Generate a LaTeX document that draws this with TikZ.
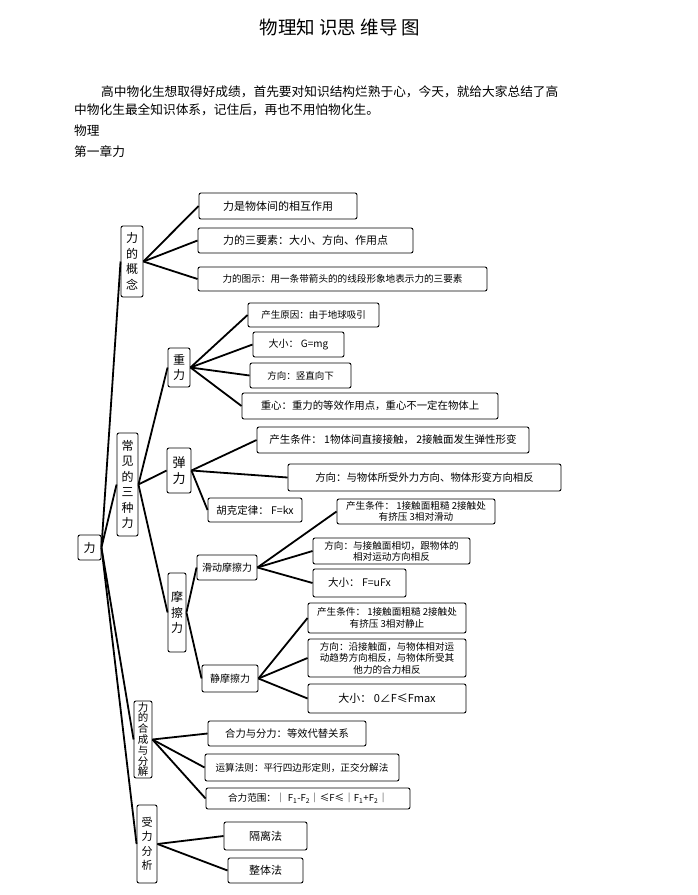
\documentclass[tikz,border=0pt]{standalone}
\usepackage{fontspec}
\setmainfont{Noto Sans CJK SC}

\begin{document}
\begin{tikzpicture}[x=1pt, y=-1pt,
    box/.style={draw, line width=0.9pt, rounded corners=2pt, inner sep=1pt, align=center, font=\fontsize{10}{12}\selectfont},
    vbox/.style={box, font=\fontsize{12}{15.5}\selectfont},
    txt/.style={anchor=west, inner sep=0pt, font=\fontsize{12.7}{15}\selectfont},
    link/.style={line width=1.8pt}]
    \useasboundingbox (0,0) rectangle (698,895);
    % heading
    \node[inner sep=0pt] (title) at (340,27) {\fontsize{18.5}{22}\selectfont 物理知 识思 维导 图};
    \node[txt] (intro1) at (101,92) {高中物化生想取得好成绩，首先要对知识结构烂熟于心，今天，就给大家总结了高};
    \node[txt] (intro2) at (74,110) {中物化生最全知识体系，记住后，再也不用怕物化生。};
    \node[txt] (subj) at (74,131) {物理};
    \node[txt] (chap) at (74,152) {第一章力};
    % root and first level
    \node[vbox, minimum width=23, minimum height=25] (li) at (89.5,547.5) {力};
    \node[vbox, minimum width=22, minimum height=71] (gainian) at (132,261.5) {力\\的\\概\\念};
    \node[vbox, minimum width=21, minimum height=103] (sanzhong) at (127.5,484.5) {常\\见\\的\\三\\种\\力};
    \node[vbox, minimum width=18, minimum height=77, font=\fontsize{10.5}{10.8}\selectfont] (hecheng) at (143,739.5) {力\\的\\合\\成\\与\\分\\解};
    \node[vbox, minimum width=20, minimum height=78, font=\fontsize{11}{14.5}\selectfont] (shouli) at (147,844) {受\\力\\分\\析};
    % three kinds of force
    \node[vbox, minimum width=22, minimum height=39] (zhongli) at (179,367.5) {重\\力};
    \node[vbox, minimum width=24, minimum height=45, font=\fontsize{13}{16}\selectfont] (tanli) at (179,470.5) {弹\\力};
    \node[vbox, minimum width=18, minimum height=79] (moca) at (177,612.5) {摩\\擦\\力};
    \node[box, minimum width=60, minimum height=25] (huadong) at (227,567.5) {滑动摩擦力};
    \node[box, minimum width=56, minimum height=27] (jingmo) at (230,678.5) {静摩擦力};
    % leaves of gainian
    \node[box, minimum width=158, minimum height=26, font=\fontsize{11}{13}\selectfont] (a1) at (278,206) {力是物体间的相互作用};
    \node[box, minimum width=215, minimum height=25, font=\fontsize{11}{13}\selectfont] (a2) at (305.5,240.5) {力的三要素：大小、方向、作用点};
    \node[box, minimum width=289, minimum height=24, font=\fontsize{9.6}{12}\selectfont] (a3) at (342.5,279) {力的图示：用一条带箭头的的线段形象地表示力的三要素};
    % leaves of zhongli
    \node[box, minimum width=131, minimum height=24, font=\fontsize{9.5}{12}\selectfont] (g1) at (313.5,315) {产生原因：由于地球吸引};
    \node[box, minimum width=91, minimum height=25] (g2) at (298.5,344.5) {大小： G=mg};
    \node[box, minimum width=101, minimum height=25, font=\fontsize{9.5}{12}\selectfont] (g3) at (300.5,375.5) {方向：竖直向下};
    \node[box, minimum width=256, minimum height=26, font=\fontsize{10.4}{12}\selectfont] (g4) at (370,406) {重心：重力的等效作用点，重心不一定在物体上};
    % leaves of tanli
    \node[box, minimum width=272, minimum height=26, font=\fontsize{10.5}{12}\selectfont] (t1) at (393,440) {产生条件： 1物体间直接接触， 2接触面发生弹性形变};
    \node[box, minimum width=273, minimum height=27, font=\fontsize{10.4}{12}\selectfont] (t2) at (424.5,477.5) {方向：与物体所受外力方向、物体形变方向相反};
    \node[box, minimum width=94, minimum height=24, font=\fontsize{10.5}{12}\selectfont] (t3) at (255,510) {胡克定律： F=kx};
    % leaves of huadong
    \node[box, minimum width=158, minimum height=25, font=\fontsize{9.6}{11}\selectfont] (h1) at (416,511.5) {产生条件： 1接触面粗糙 2接触处\\有挤压 3相对滑动};
    \node[box, minimum width=157, minimum height=26, font=\fontsize{9.6}{11}\selectfont] (h2) at (391.5,551) {方向：与接触面相切，跟物体的\\相对运动方向相反};
    \node[box, minimum width=93, minimum height=28, font=\fontsize{10.5}{12}\selectfont] (h3) at (359.5,583) {大小： F=uFx};
    % leaves of jingmo
    \node[box, minimum width=158, minimum height=30, font=\fontsize{9.6}{12}\selectfont] (j1) at (387,618) {产生条件： 1接触面粗糙 2接触处\\有挤压 3相对静止};
    \node[box, minimum width=158, minimum height=38, font=\fontsize{9.6}{11.5}\selectfont] (j2) at (387,658) {方向：沿接触面，与物体相对运\\动趋势方向相反，与物体所受其\\他力的合力相反};
    \node[box, minimum width=158, minimum height=29, font=\fontsize{11}{12}\selectfont] (j3) at (387,698.5) {大小： 0∠F≤Fmax};
    % leaves of hecheng and shouli
    \node[box, minimum width=158, minimum height=25, font=\fontsize{10.3}{12}\selectfont] (c1) at (287,733.5) {合力与分力：等效代替关系};
    \node[box, minimum width=194, minimum height=27, font=\fontsize{9.6}{12}\selectfont] (c2) at (302,767.5) {运算法则：平行四边形定则，正交分解法};
    \node[box, minimum width=204, minimum height=21, font=\fontsize{9.6}{12}\selectfont] (c3) at (308,798.5) {合力范围：｜ F\textsubscript{1}-F\textsubscript{2}｜≤F≤｜F\textsubscript{1}+F\textsubscript{2}｜};
    \node[box, minimum width=83, minimum height=28, font=\fontsize{11}{12}\selectfont] (s1) at (265.5,836) {隔离法};
    \node[box, minimum width=75, minimum height=25, font=\fontsize{11}{12}\selectfont] (s2) at (265.5,870.5) {整体法};
    % connectors
    \foreach \k in {gainian,sanzhong,hecheng,shouli}
        \draw[link] (li.east) -- (\k.west);
    \foreach \k in {a1,a2,a3}
        \draw[link] (gainian.east) -- (\k.west);
    \foreach \k in {zhongli,tanli,moca}
        \draw[link] (sanzhong.east) -- (\k.west);
    \foreach \k in {g1,g2,g3,g4}
        \draw[link] (zhongli.east) -- (\k.west);
    \foreach \k in {t1,t2,t3}
        \draw[link] (tanli.east) -- (\k.west);
    \foreach \k in {huadong,jingmo}
        \draw[link] (moca.east) -- (\k.west);
    \foreach \k in {h1,h2,h3}
        \draw[link] (huadong.east) -- (\k.west);
    \foreach \k in {j1,j2,j3}
        \draw[link] (jingmo.east) -- (\k.west);
    \foreach \k in {c1,c2,c3}
        \draw[link] (hecheng.east) -- (\k.west);
    \foreach \k in {s1,s2}
        \draw[link] (shouli.east) -- (\k.west);
\end{tikzpicture}
\end{document}
